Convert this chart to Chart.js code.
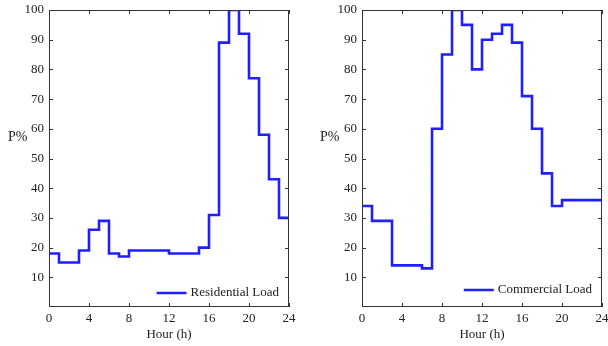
<!DOCTYPE html>
<html>
<head>
<meta charset="utf-8">
<script src="https://cdn.jsdelivr.net/npm/chart.js@4.4.0/dist/chart.umd.min.js"></script>
<style>
  body { margin: 0; background: #fff; }
  .box { position: absolute; top: 0; height: 346px; }
  canvas { display: block; }
</style>
</head>
<body>
<div class="box" style="left:0;width:300px"><canvas id="resChart" width="300" height="346"></canvas></div>
<div class="box" style="left:310px;width:298px"><canvas id="comChart" width="298" height="346"></canvas></div>
<script>
// Data
const hours = [0, 1, 2, 3, 4, 5, 6, 7, 8, 9, 10, 11, 12, 13, 14, 15, 16, 17, 18, 19, 20, 21, 22, 23, 24];
const residentialLoad = [18, 15, 15, 19, 26, 29, 18, 17, 19, 19, 19, 19, 18, 18, 18, 20, 31, 89, 100, 92, 77, 58, 43, 30, 30];
const commercialLoad = [34, 29, 29, 14, 14, 14, 13, 60, 85, 100, 95, 80, 90, 92, 95, 89, 71, 60, 45, 34, 36, 36, 36, 36, 36];
const xTicks = [0, 4, 8, 12, 16, 20, 24];
const yTicks = [10, 20, 30, 40, 50, 60, 70, 80, 90, 100];

const FONT = "'Liberation Serif', 'Times New Roman', serif";
const BLUE = "#1f1fff";

// Box, inward ticks, P% label and legend
const framePlugin = {
    id: "frame",
    afterDraw(chart, args, opts) {
        const ctx = chart.ctx;
        const a = chart.chartArea;
        const xs = chart.scales.x, ys = chart.scales.y;
        ctx.save();
        ctx.strokeStyle = "#333";
        ctx.lineWidth = 1;
        ctx.strokeRect(a.left + 0.5, a.top + 0.5, a.right - a.left - 1, a.bottom - a.top - 1);
        ctx.beginPath();
        xTicks.forEach(t => {
            const px = Math.round(xs.getPixelForValue(t)) + 0.5;
            ctx.moveTo(px, a.bottom); ctx.lineTo(px, a.bottom - 4);
            ctx.moveTo(px, a.top); ctx.lineTo(px, a.top + 4);
        });
        yTicks.forEach(t => {
            const py = Math.round(ys.getPixelForValue(t)) + 0.5;
            ctx.moveTo(a.left, py); ctx.lineTo(a.left + 4, py);
            ctx.moveTo(a.right, py); ctx.lineTo(a.right - 4, py);
        });
        ctx.stroke();

        // y label, horizontal
        ctx.fillStyle = "#222";
        ctx.font = "14px " + FONT;
        ctx.textAlign = "left";
        ctx.textBaseline = "middle";
        ctx.fillText("P%", opts.labelX, ys.getPixelForValue(57));

        // legend
        const ly = a.bottom - opts.legendOffset;
        ctx.font = "13px " + FONT;
        ctx.textAlign = "right";
        const label = chart.data.datasets[0].label;
        const textRight = a.right - 10;
        const tw = ctx.measureText(label).width;
        ctx.fillText(label, textRight, ly);
        ctx.strokeStyle = BLUE;
        ctx.lineWidth = 2.5;
        ctx.beginPath();
        ctx.moveTo(textRight - tw - 34, ly);
        ctx.lineTo(textRight - tw - 4, ly);
        ctx.stroke();
        ctx.restore();
    }
};

function makeChart(id, label, values, yWidth, padRight, labelX, legendOffset) {
    const points = hours.map((h, i) => ({ x: h, y: values[i] }));
    return new Chart(document.getElementById(id), {
        type: "line",
        data: {
            datasets: [{
                label: label,
                data: points,
                stepped: "before",
                borderColor: BLUE,
                borderWidth: 2.6,
                pointRadius: 0,
                fill: false
            }]
        },
        options: {
            responsive: false,
            animation: false,
            layout: { padding: { top: 10, right: padRight, left: 0, bottom: 0 } },
            plugins: {
                legend: { display: false },
                tooltip: { enabled: false },
                frame: { labelX: labelX, legendOffset: legendOffset }
            },
            scales: {
                x: {
                    type: "linear",
                    min: 0,
                    max: 24,
                    afterBuildTicks: s => { s.ticks = xTicks.map(v => ({ value: v })); },
                    afterFit: s => { s.height = 39; s.paddingLeft = 0; s.paddingRight = 0; },
                    grid: { display: false, drawTicks: false },
                    border: { display: false },
                    ticks: { color: "#222", font: { family: FONT, size: 13 }, padding: 4, maxRotation: 0 },
                    title: { display: true, text: "Hour (h)", color: "#222", font: { family: FONT, size: 13 }, padding: { top: 0, bottom: 4 } }
                },
                y: {
                    min: 0,
                    max: 100,
                    afterBuildTicks: s => { s.ticks = yTicks.map(v => ({ value: v })); },
                    afterFit: s => { s.width = yWidth; s.paddingTop = 0; s.paddingBottom = 0; },
                    grid: { display: false, drawTicks: false },
                    border: { display: false },
                    ticks: { color: "#222", font: { family: FONT, size: 13 }, padding: 5 }
                }
            }
        },
        plugins: [framePlugin]
    });
}

makeChart("resChart", "Residential Load", residentialLoad, 49, 11, 8, 14);
makeChart("comChart", "Commercial Load", commercialLoad, 52, 6, 10, 17);
</script>
</body>
</html>
